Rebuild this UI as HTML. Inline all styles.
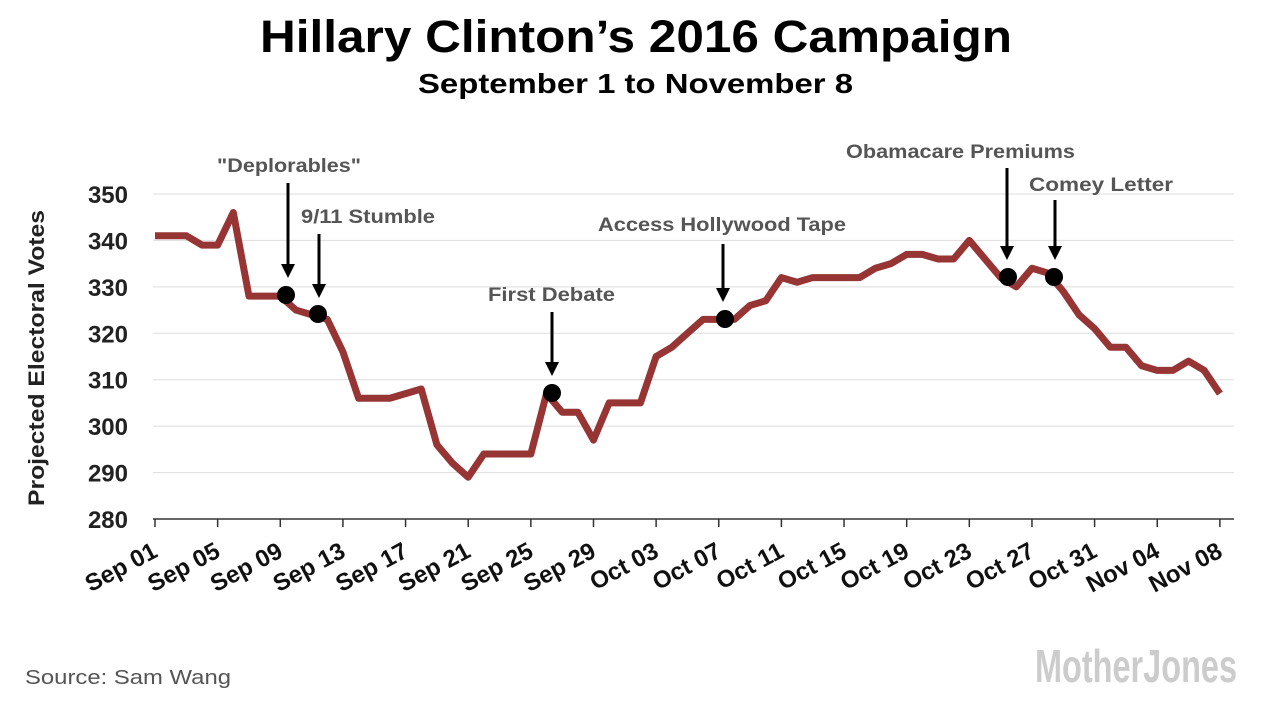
<!DOCTYPE html>
<html><head><meta charset="utf-8"><style>
body{margin:0;background:#fff;width:1272px;height:701px;overflow:hidden}
svg text{font-family:"Liberation Sans",sans-serif}
</style></head><body>
<svg id="s" width="1272" height="701" xmlns="http://www.w3.org/2000/svg">
<text x="260" y="52" textLength="752" lengthAdjust="spacingAndGlyphs" font-size="45" font-weight="bold" fill="#000">Hillary Clinton’s 2016 Campaign</text>
<text x="418" y="93" textLength="435" lengthAdjust="spacingAndGlyphs" font-size="28" font-weight="bold" fill="#000">September 1 to November 8</text>
<g id="grid" stroke="#ddd" stroke-width="1"></g>
<g id="yl" font-size="24" font-weight="bold" fill="#222" text-anchor="end"></g>
<text transform="translate(44,358) rotate(-90)" x="-148" textLength="296" lengthAdjust="spacingAndGlyphs" font-size="22" font-weight="bold" fill="#222">Projected Electoral Votes</text>
<line x1="153" y1="519" x2="1234" y2="519" stroke="#333" stroke-width="1.5"/>
<g id="xt" stroke="#333" stroke-width="1.5"></g>
<g id="xl" font-size="24" font-weight="bold" fill="#111" text-anchor="end"></g>
<polyline id="ln" fill="none" stroke="#963534" stroke-width="7" stroke-linejoin="round"/>
<g fill="#555" font-size="19" font-weight="bold">
<text x="217" y="172" textLength="144" lengthAdjust="spacingAndGlyphs">"Deplorables"</text>
<text x="301" y="223" textLength="134" lengthAdjust="spacingAndGlyphs">9/11 Stumble</text>
<text x="488" y="301" textLength="127" lengthAdjust="spacingAndGlyphs">First Debate</text>
<text x="598" y="231" textLength="248" lengthAdjust="spacingAndGlyphs">Access Hollywood Tape</text>
<text x="846" y="158" textLength="229" lengthAdjust="spacingAndGlyphs">Obamacare Premiums</text>
<text x="1029" y="191" textLength="144" lengthAdjust="spacingAndGlyphs">Comey Letter</text>
</g>
<g stroke="#000" stroke-width="3">
<line x1="288" y1="183" x2="288" y2="268"/><line x1="319" y1="234" x2="319" y2="288"/>
<line x1="552" y1="312" x2="552" y2="366"/><line x1="723" y1="244" x2="723" y2="292"/>
<line x1="1007" y1="168" x2="1007" y2="250"/><line x1="1055" y1="200" x2="1055" y2="250"/>
</g>
<g fill="#000">
<polygon points="281,264 295,264 288,278"/><polygon points="312,284 326,284 319,298"/>
<polygon points="545,362 559,362 552,376"/><polygon points="716,288 730,288 723,302"/>
<polygon points="1000,246 1014,246 1007,260"/><polygon points="1048,246 1062,246 1055,260"/>
<circle cx="286" cy="295" r="9"/><circle cx="318" cy="314" r="9"/><circle cx="552" cy="393" r="9"/>
<circle cx="725" cy="319" r="9"/><circle cx="1008" cy="277" r="9"/><circle cx="1054" cy="277" r="9"/>
</g>
<text x="25" y="684" textLength="206" lengthAdjust="spacingAndGlyphs" font-size="20" fill="#555" font-family="DejaVu Sans,sans-serif">Source: Sam Wang</text>
<text x="1035" y="682" textLength="202" lengthAdjust="spacingAndGlyphs" font-size="46" font-weight="bold" fill="#ccc">MotherJones</text>
</svg>
<script>
var ns="http://www.w3.org/2000/svg";
function el(p,t,a,tx){var e=document.createElementNS(ns,t);for(var k in a)e.setAttribute(k,a[k]);if(tx)e.textContent=tx;document.getElementById(p).appendChild(e);}
function X(d){return 155+d*15.66}function Y(v){return 519-(v-280)*4.643}
for(var v=290;v<=350;v+=10){el("grid","line",{x1:153,x2:1234,y1:Y(v),y2:Y(v)});}
for(var v=280;v<=350;v+=10){el("yl","text",{x:128,y:Y(v)+9},v);}
var labs=["Sep 01","Sep 05","Sep 09","Sep 13","Sep 17","Sep 21","Sep 25","Sep 29","Oct 03","Oct 07","Oct 11","Oct 15","Oct 19","Oct 23","Oct 27","Oct 31","Nov 04","Nov 08"];
labs.forEach(function(l,i){var x=X(i*4);el("xt","line",{x1:x,x2:x,y1:519,y2:527});var ax=x+4,ay=556;el("xl","text",{x:ax,y:ay,transform:"rotate(-28 "+ax+" "+ay+")"},l);});
var d=[341,341,341,339,339,346,328,328,328,325,324,323,316,306,306,306,307,308,296,292,289,294,294,294,294,307,303,303,297,305,305,305,315,317,320,323,323,323,326,327,332,331,332,332,332,332,334,335,337,337,336,336,340,336,332,330,334,333,329,324,321,317,317,313,312,312,314,312,307];
document.getElementById("ln").setAttribute("points",d.map(function(v,i){return X(i)+","+Y(v)}).join(" "));
</script>
</body></html>
